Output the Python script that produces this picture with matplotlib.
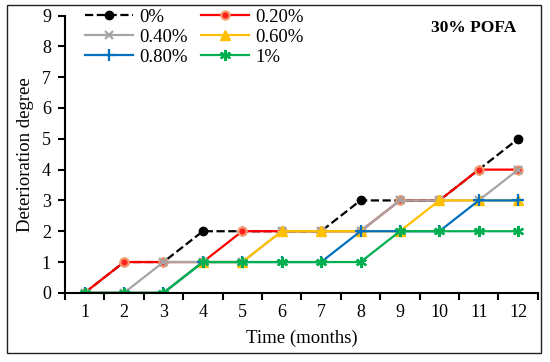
import matplotlib
matplotlib.use('Agg')
import matplotlib.pyplot as plt
from matplotlib.patches import Rectangle

plt.rcParams['font.family'] = ['Liberation Serif', 'DejaVu Serif']

months = [1, 2, 3, 4, 5, 6, 7, 8, 9, 10, 11, 12]
pofa_0 = [0, 1, 1, 2, 2, 2, 2, 3, 3, 3, 4, 5]
pofa_020 = [0, 1, 1, 1, 2, 2, 2, 2, 3, 3, 4, 4]
pofa_040 = [0, 0, 1, 1, 1, 2, 2, 2, 3, 3, 3, 4]
pofa_060 = [0, 0, 0, 1, 1, 2, 2, 2, 2, 3, 3, 3]
pofa_080 = [0, 0, 0, 1, 1, 1, 1, 2, 2, 2, 3, 3]
pofa_1 = [0, 0, 0, 1, 1, 1, 1, 1, 2, 2, 2, 2]

fig = plt.figure(figsize=(5.5, 3.62), dpi=100)
ax = fig.add_axes([0.118, 0.191, 0.860, 0.766])

# border round the whole chart
fig.patches.append(Rectangle((0.013, 0.025), 0.971, 0.962, transform=fig.transFigure,
                             fill=False, edgecolor='#222222', linewidth=1.0))

ax.plot(months, pofa_0, color='black', linestyle='--', linewidth=1.6,
        marker='o', markersize=6, label='0%')
ax.plot(months, pofa_020, color='#FF0000', linewidth=1.6, marker='o', markersize=6,
        markerfacecolor='#FF2020', markeredgecolor='#F4A070', markeredgewidth=1.5, label='0.20%')
ax.plot(months, pofa_040, color='#A5A5A5', linewidth=1.6, marker='x', markersize=6,
        markeredgewidth=1.6, label='0.40%')
ax.plot(months, pofa_060, color='#FFC000', linewidth=1.6, marker='^', markersize=7,
        label='0.60%')
ax.plot(months, pofa_080, color='#0070C0', linewidth=1.6, marker='+', markersize=8,
        markeredgewidth=1.6, label='0.80%')
ax.plot(months, pofa_1, color='#00B050', linewidth=1.6, marker=(6, 2, 0), markersize=8,
        markeredgewidth=1.6, label='1%')

ax.set_xlim(0.5, 12.5)
ax.set_ylim(0, 9)
ax.set_xticks(months)
ax.set_xticks([m + 0.5 for m in [0] + months], minor=True)
ax.set_yticks(range(0, 10))
ax.tick_params(axis='x', which='major', length=0, labelsize=13, pad=8)
ax.tick_params(axis='x', which='minor', length=5, width=1.5, direction='out')
ax.tick_params(axis='y', which='major', length=5, width=1.5, direction='out', labelsize=13, pad=5)

for side in ['top', 'right']:
    ax.spines[side].set_visible(False)
for side in ['left', 'bottom']:
    ax.spines[side].set_linewidth(1.5)

ax.set_xlabel('Time (months)', fontsize=13.5, labelpad=6)
ax.set_ylabel('Deterioration degree', fontsize=13.5, labelpad=6)

ax.text(0.955, 0.955, '30% POFA', transform=ax.transAxes, fontsize=12.5,
        fontweight='bold', ha='right', va='center')

# legend filled row by row, as in the original
handles, labels = ax.get_legend_handles_labels()
order = [0, 2, 4, 1, 3, 5]
ax.legend([handles[i] for i in order], [labels[i] for i in order],
          ncol=2, loc='upper left', bbox_to_anchor=(0.018, 1.065), frameon=False,
          fontsize=13.5, handlelength=2.6, handletextpad=0.3, columnspacing=0.7,
          labelspacing=0.15, borderaxespad=0.2)

fig.savefig('out.png', dpi=100)
